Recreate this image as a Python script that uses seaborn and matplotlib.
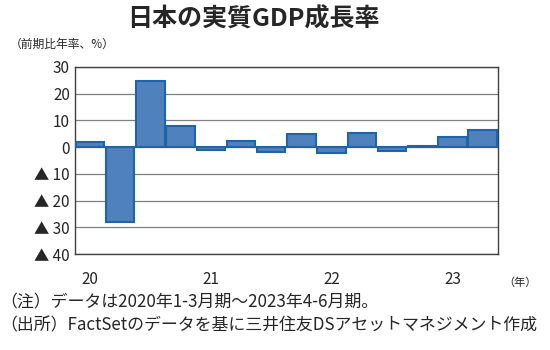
import numpy as np
import pandas as pd
import seaborn as sns
import matplotlib.pyplot as plt

quarters = ['2020Q1', '2020Q2', '2020Q3', '2020Q4',
            '2021Q1', '2021Q2', '2021Q3', '2021Q4',
            '2022Q1', '2022Q2', '2022Q3', '2022Q4',
            '2023Q1', '2023Q2']
growth = [1.9, -28.1, 24.6, 7.9, -1.0, 2.3, -1.9, 4.9, -2.3, 5.4, -1.4, 0.4, 3.8, 6.4]
year_labels = ['20', '21', '22', '23']
year_pos = [0, 4, 8, 12]
y_ticks = [30, 20, 10, 0, -10, -20, -30, -40]
y_labels = ['30', '20', '10', '0', '▲ 10', '▲ 20', '▲ 30', '▲ 40']

sns.set_style('white')
plt.rcParams['font.family'] = ['Noto Sans CJK JP', 'DejaVu Sans']

df = pd.DataFrame({'q': quarters, 'g': growth})

fig = plt.figure(figsize=(5.5, 3.5), dpi=100)
ax = fig.add_axes([0.136, 0.274, 0.769, 0.535])

sns.barplot(data=df, x='q', y='g', color='#4F81BD', saturation=1,
            width=0.94, edgecolor='#1F64A8', linewidth=1.5, ax=ax, zorder=3)

ax.set_ylim(-40, 30)
ax.set_xlim(-0.5, len(quarters) - 0.5)
ax.set_yticks(y_ticks)
ax.set_yticklabels(y_labels, fontsize=11)
ax.set_xticks(year_pos)
ax.set_xticklabels(year_labels, fontsize=11)
ax.tick_params(axis='both', length=0)
ax.tick_params(axis='x', pad=12)
ax.set_xlabel('')
ax.set_ylabel('')
ax.grid(axis='y', color='#808080', linewidth=0.9, zorder=0)
for s in ax.spines.values():
    s.set_color('#404040')
    s.set_linewidth(1.0)

fig.text(0.46, 0.945, '日本の実質GDP成長率', ha='center', va='center',
         fontsize=18, fontweight='bold')
fig.text(0.018, 0.872, '（前期比年率、%）', ha='left', va='center', fontsize=8.5)
fig.text(0.945, 0.193, '（年）', ha='center', va='center', fontsize=8)
fig.text(0.0, 0.135, '（注）データは2020年1-3月期～2023年4-6月期。',
         ha='left', va='center', fontsize=12.2)
fig.text(0.0, 0.07, '（出所）FactSetのデータを基に三井住友DSアセットマネジメント作成',
         ha='left', va='center', fontsize=12.2)

plt.savefig('out.png', dpi=100)
